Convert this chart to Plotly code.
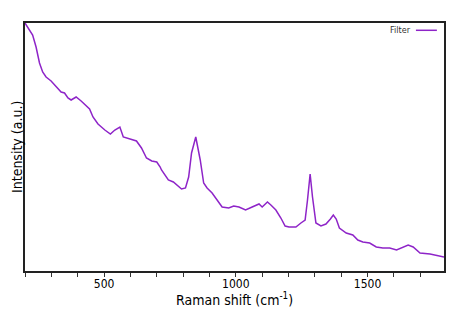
import plotly.graph_objects as go

raman_shift = [200, 216, 229, 242, 255, 267, 280, 299, 318, 337, 350, 363, 375, 394, 413,
               426, 445, 458, 477, 503, 524, 541, 560, 573, 598, 623, 642, 661, 681, 700,
               713, 718, 744, 763, 794, 809, 821, 832, 848, 865, 878, 891, 910, 929, 948,
               973, 992, 1012, 1037, 1062, 1088, 1100, 1120, 1133, 1152, 1171, 1187, 1202,
               1228, 1247, 1263, 1272, 1282, 1291, 1304, 1323, 1342, 1359, 1370, 1381, 1393,
               1419, 1444, 1463, 1482, 1508, 1533, 1558, 1584, 1610, 1635, 1654, 1673, 1699,
               1737, 1768, 1790]
intensity = [248, 241, 236, 224, 208, 199, 194, 190, 184, 179, 178, 173, 171, 174, 170,
             167, 162, 154, 147, 141, 137, 141, 144, 134, 132, 130, 123, 113, 110, 109,
             104, 101, 91, 89, 82, 83, 94, 118, 134, 111, 88, 83, 78, 71, 64,
             63, 65, 64, 61, 64, 67, 64, 69, 66, 61, 53, 45, 44,
             44, 48, 51, 71, 97, 74, 48, 45, 47, 52, 56, 52, 43,
             38, 36, 31, 29, 28, 24, 23, 23, 21, 24, 26, 24, 18,
             17, 15, 14]

series_name = "Filter"
x_tick_vals = [500, 1000, 1500]
x_tick_text = ["500", "1000", "1500"]

line_color = "#8e24c8"
font_family = "DejaVu Sans Condensed, DejaVu Sans"

fig = go.Figure()
fig.add_trace(go.Scatter(x=raman_shift, y=intensity, mode="lines", name=series_name,
                         line=dict(color=line_color, width=1.5), showlegend=False))

fig.update_layout(
    width=462, height=323,
    margin=dict(l=17, r=26, t=15, b=60),
    paper_bgcolor="white", plot_bgcolor="white",
    font=dict(family=font_family, color="#000"),
    xaxis=dict(range=[200, 1790], tickvals=x_tick_vals, ticktext=x_tick_text,
               ticks="outside", ticklen=4, tickwidth=1, tickcolor="#333",
               minor=dict(dtick=100, tick0=0, ticks="outside", ticklen=4, tickcolor="#333"),
               showline=True, linecolor="#222", linewidth=1.5, mirror=True,
               showgrid=False, zeroline=False,
               tickfont=dict(size=12), ticklabelstandoff=-3),
    yaxis=dict(range=[0, 248], showticklabels=False, ticks="",
               showline=True, linecolor="#222", linewidth=1.5, mirror=True,
               showgrid=False, zeroline=False),
    annotations=[
        dict(text=series_name, xref="paper", yref="paper", x=0.925, y=0.9706,
             xanchor="right", yanchor="middle", showarrow=False,
             font=dict(size=9, color="#333")),
        dict(text="Raman shift (cm<sup>-1</sup>)", xref="paper", yref="paper", x=0.5, y=0,
             xanchor="center", yanchor="middle", yshift=-28, showarrow=False,
             font=dict(size=14)),
        dict(text="Intensity (a.u.)", xref="paper", yref="paper", x=0, y=0.5,
             xanchor="right", yanchor="middle", xshift=2, textangle=-90, showarrow=False,
             font=dict(size=14)),
    ],
    shapes=[dict(type="line", xref="paper", yref="paper", x0=0.933, x1=0.983,
                 y0=0.9706, y1=0.9706, line=dict(color=line_color, width=1.5))],
)

fig.write_html("out.html")
